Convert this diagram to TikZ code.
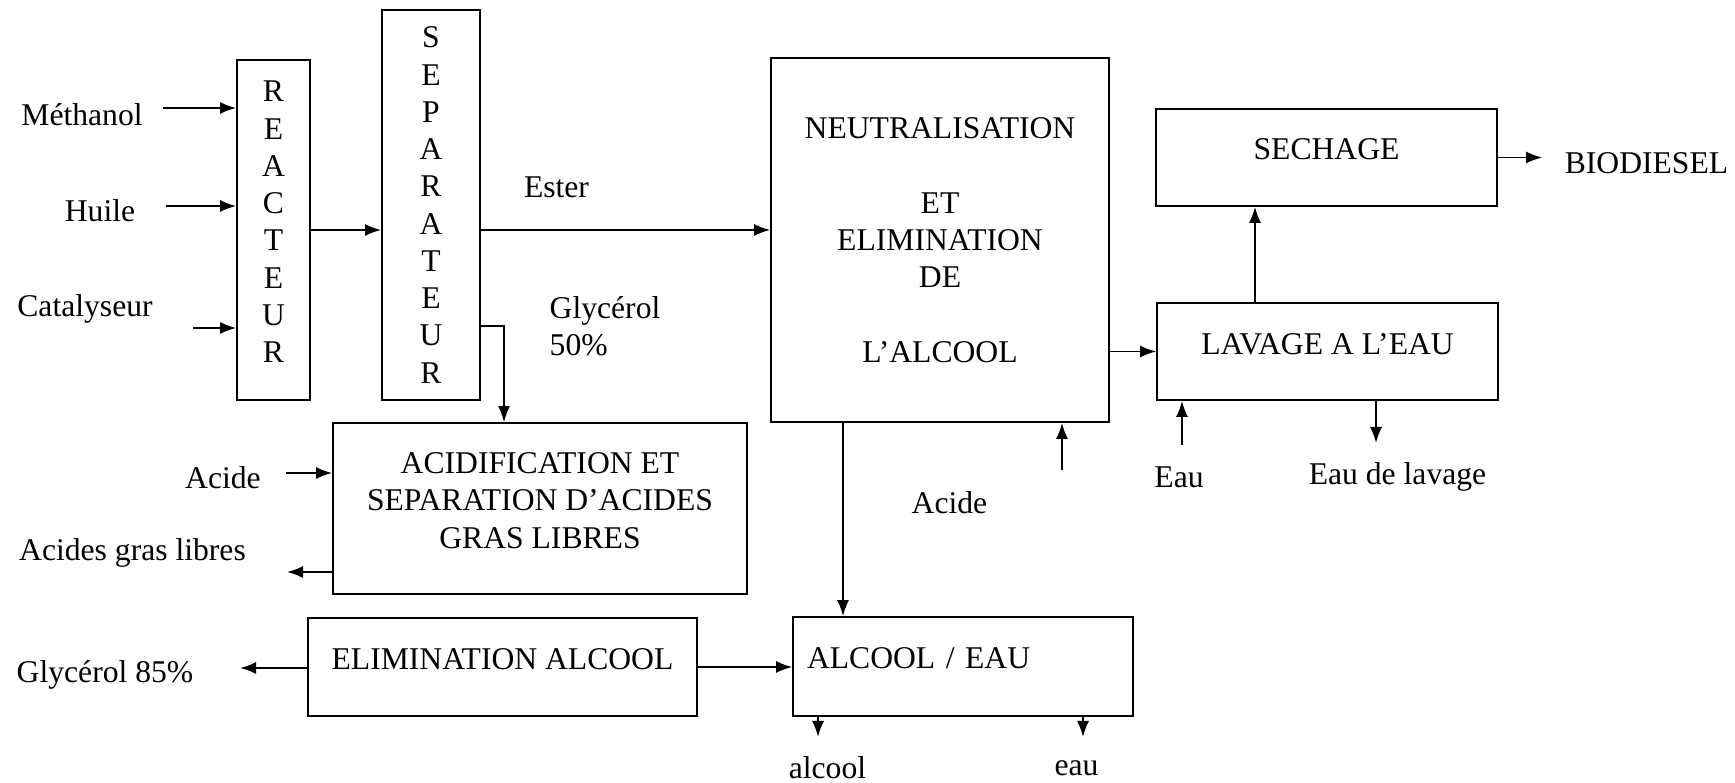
\documentclass[tikz,border=0pt]{standalone}
\usepackage{fontspec}
\setmainfont{Liberation Serif}
\usetikzlibrary{arrows.meta,positioning}

\begin{document}
\begin{tikzpicture}[
    font=\fontsize{9}{10.6}\selectfont,
    box/.style={draw, line width=0.5pt, align=center, inner sep=0pt, text depth=1.6mm},
    lbl/.style={inner sep=0pt},
    flow/.style={line width=0.5pt, -{Latex[length=1.6mm, width=1.2mm]}}
  ]
  \useasboundingbox (0,0) rectangle (17.35,7.83);

  % process blocks
  \node[box, minimum width=0.73cm, minimum height=3.40cm] (reacteur) at (2.735,5.53) {R\\E\\A\\C\\T\\E\\U\\R};
  \node[box, minimum width=0.98cm, minimum height=3.90cm, text depth=0pt] (separateur) at (4.31,5.78) {S\\E\\P\\A\\R\\A\\T\\E\\U\\R};
  \node[box, minimum width=3.38cm, minimum height=3.64cm, text depth=0pt] (neutral) at (9.40,5.43)
    {NEUTRALISATION\\[10.6pt]ET\\ELIMINATION\\DE\\[10.6pt]L'ALCOOL};
  \node[box, minimum width=3.41cm, minimum height=0.97cm] (sechage) at (13.265,6.255) {SECHAGE};
  \node[box, minimum width=3.41cm, minimum height=0.97cm] (lavage) at (13.275,4.315) {LAVAGE A L'EAU};
  \node[box, minimum width=4.14cm, minimum height=1.71cm] (acidif) at (5.40,2.745)
    {ACIDIFICATION ET\\SEPARATION D'ACIDES\\GRAS LIBRES};
  \node[box, minimum width=3.89cm, minimum height=0.98cm] (elimin) at (5.025,1.16) {ELIMINATION ALCOOL};
  \node[box, minimum width=3.40cm, minimum height=0.99cm, text width=3.12cm, align=left, inner xsep=1.4mm] (alceau) at (9.63,1.165) {ALCOOL / EAU};

  % stream labels
  \node[lbl] (methanol) at (0.82,6.68) {Méthanol};
  \node[lbl] (huile) at (1.00,5.72) {Huile};
  \node[lbl] (catalyseur) at (0.85,4.74) {Catalyseur};
  \node[lbl] (ester) at (5.565,5.96) {Ester};
  \node[lbl, anchor=west, align=left] (glycerol) at (5.49,4.57) {Glycérol\\50\%};
  \node[lbl] (biodiesel) at (16.465,6.20) {BIODIESEL};
  \node[lbl] (acide) at (2.23,3.05) {Acide};
  \node[lbl] (agl) at (1.325,2.30) {Acides gras libres};
  \node[lbl] (gly85) at (1.05,1.08) {Glycérol 85\%};
  \node[lbl] (acide2) at (9.495,2.80) {Acide};
  \node[lbl] (eau) at (11.79,3.06) {Eau};
  \node[lbl] (eaulavage) at (13.975,3.06) {Eau de lavage};
  \node[lbl] (alcool) at (8.275,0.15) {alcool};
  \node[lbl] (eau2) at (10.765,0.15) {eau};

  % free ends of the streams
  \coordinate (in-meth) at (1.63,6.75);
  \coordinate (in-huile) at (1.66,5.77);
  \coordinate (in-cata) at (1.93,4.55);
  \coordinate (ester-out) at (4.80,5.53);
  \coordinate (gly-out) at (4.80,4.57);
  \coordinate (in-acide) at (2.86,3.10);
  \coordinate (out-agl) at (2.87,2.11);
  \coordinate (out-gly85) at (2.40,1.15);
  \coordinate (in-acide2) at (10.62,3.13);
  \coordinate (in-eau) at (11.82,3.38);
  \coordinate (out-eaul) at (13.76,3.40);
  \coordinate (out-alc) at (8.18,0.46);
  \coordinate (out-eau) at (10.83,0.46);

  % connectors
  \draw[flow] (in-meth) -- (in-meth -| reacteur.west);
  \draw[flow] (in-huile) -- (in-huile -| reacteur.west);
  \draw[flow] (in-cata) -- (in-cata -| reacteur.west);
  \draw[flow] (reacteur.east) -- (reacteur.east -| separateur.west);
  \draw[flow] (ester-out) -- (ester-out -| neutral.west);
  \draw[flow] (gly-out) -| ([xshift=-3.6mm]acidif.north);
  \draw[flow] (in-acide) -- (in-acide -| acidif.west);
  \draw[flow] (out-agl -| acidif.west) -- (out-agl);
  \draw[flow] (out-gly85 -| elimin.west) -- (out-gly85);
  \draw[flow] (elimin.east) -- (elimin.east -| alceau.west);
  \draw[flow] ([xshift=-9.7mm]neutral.south) -- ([xshift=-12mm]alceau.north);
  \draw[flow] (in-acide2) -- (in-acide2 |- neutral.south);
  \draw[flow] (neutral.east |- lavage.west) -- (lavage.west);
  \draw[flow] ([xshift=-7.25mm]lavage.north) coordinate (l-up) -- (l-up |- sechage.south);
  \draw[flow, shorten >=2.2mm] (sechage.east) -- (sechage.east -| biodiesel.west);
  \draw[flow] (in-eau) -- (in-eau |- lavage.south);
  \draw[flow] (out-eaul |- lavage.south) -- (out-eaul);
  \draw[flow] (out-alc |- alceau.south) -- (out-alc);
  \draw[flow] (out-eau |- alceau.south) -- (out-eau);
\end{tikzpicture}
\end{document}
